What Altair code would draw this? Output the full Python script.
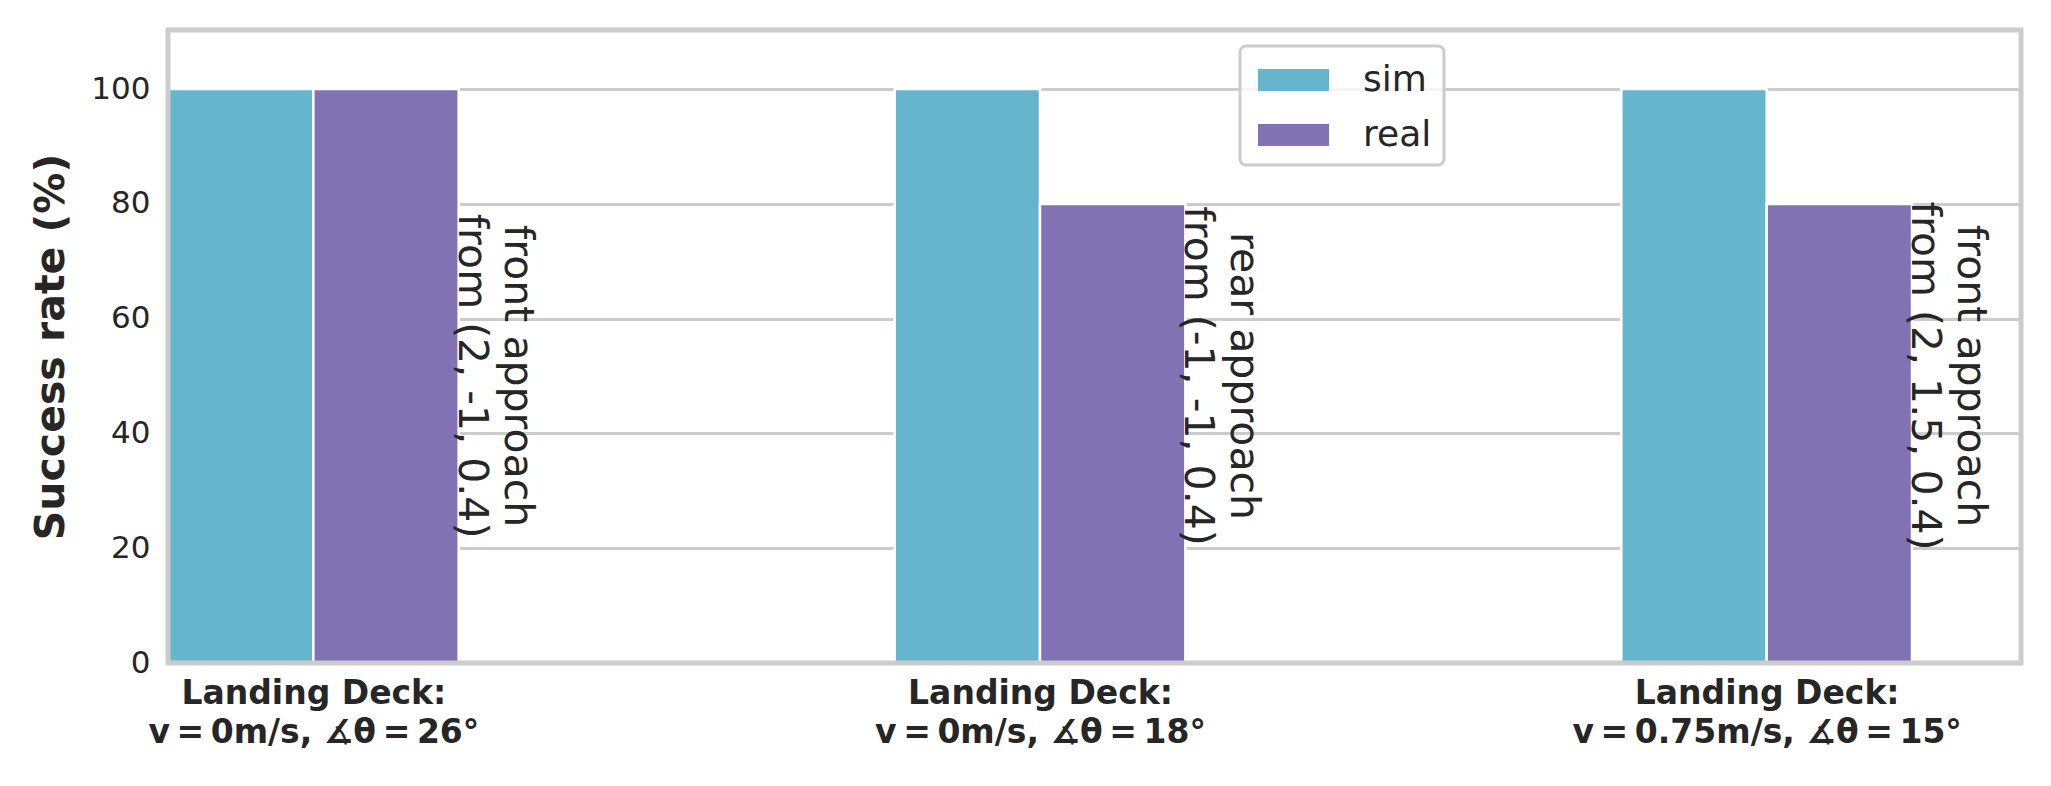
import json
import altair as alt
import pandas as pd

# ---------------- data ----------------
categories = [
    "Landing Deck:\nv = 0m/s, ∡θ = 26°",
    "Landing Deck:\nv = 0m/s, ∡θ = 18°",
    "Landing Deck:\nv = 0.75m/s, ∡θ = 15°",
]
sim_values = [100, 100, 100]
real_values = [100, 80, 80]
annotations = [
    "front approach\nfrom (2, -1, 0.4)",
    "rear approach\nfrom (-1, -1, 0.4)",
    "front approach\nfrom (2, 1.5, 0.4)",
]
series_names = ["sim", "real"]
series_colors = ["#64B5CD", "#8172B3"]
y_ticks = [0, 20, 40, 60, 80, 100]

# ---------------- tables ----------------
BAR_W = 0.2
rows = []
for i in range(len(categories)):
    rows.append(dict(idx=i, series="sim", x0=i - BAR_W, x1=i, value=sim_values[i]))
    rows.append(dict(idx=i, series="real", x0=i, x1=i + BAR_W, value=real_values[i]))
bars_df = pd.DataFrame(rows)

ann_df = pd.DataFrame(dict(
    pos=[i + 0.28 for i in range(len(annotations))],
    level=[50] * len(annotations),
    text=annotations,
))

# math-style tighter spacing around "=" (thin spaces)
def _fmt(line):
    return line.replace(" = ", "\u2009=\u2009")

label_arrays = "[" + ",".join(
    "[" + ",".join(json.dumps(_fmt(s), ensure_ascii=False) for s in c.split("\n")) + "]"
    for c in categories
) + "]"
label_expr = label_arrays + "[round(datum.value)]"

FONT = "DejaVu Sans"
TXT = "#262626"

x_scale = alt.Scale(domain=[-0.2, 2.35], nice=False, zero=False, padding=0)
y_scale = alt.Scale(domain=[0, 110.3], nice=False, padding=0)

bars = alt.Chart(bars_df).mark_bar(stroke="white", strokeWidth=2.5).encode(
    x=alt.X("x0:Q", scale=x_scale, axis=alt.Axis(
        values=list(range(len(categories))), labelExpr=label_expr, title=None,
        grid=False, ticks=False, domain=False, labelFlush=False, labelOverlap=False,
        labelBound=False, labelLimit=0, labelFont=FONT, labelFontSize=33,
        labelFontWeight="bold", labelColor=TXT, labelLineHeight=39, labelPadding=14,
        labelAlign="center", labelBaseline="top")),
    x2="x1:Q",
    y=alt.Y("value:Q", scale=y_scale, axis=alt.Axis(
        values=y_ticks, title="Success rate (%)", grid=True, gridColor="#cccccc",
        gridWidth=3, ticks=False, domain=False, labelFont=FONT, labelFontSize=31,
        labelColor=TXT, labelPadding=18, titleFont=FONT, titleFontSize=41,
        titleFontWeight="bold", titleColor=TXT, titlePadding=18)),
    y2=alt.datum(0),
    color=alt.Color("series:N", scale=alt.Scale(domain=series_names, range=series_colors),
        legend=alt.Legend(
            orient="none", legendX=1072, legendY=16, title=None,
            symbolType="M-0.727,-0.5L2.5,-0.5L2.5,0.5L-0.727,0.5Z",
            symbolSize=1936, symbolStrokeWidth=0, symbolOpacity=1,
            labelFont=FONT, labelFontSize=36, labelColor=TXT, labelOffset=67,
            padding=12, rowPadding=15,
            fillColor="rgba(255,255,255,0.8)", strokeColor="#cccccc")),
)

texts = alt.Chart(ann_df).mark_text(
    angle=90, align="center", baseline="middle", fontSize=41, lineHeight=46,
    lineBreak="\n", font=FONT, color=TXT,
).encode(
    x=alt.X("pos:Q", scale=x_scale),
    y=alt.Y("level:Q", scale=y_scale),
    text="text:N",
)

frame = alt.Chart(alt.Data(values=[{}])).mark_rect(
    fillOpacity=0, stroke="#cccccc", strokeWidth=5
).encode(
    x=alt.value(0), x2=alt.value("width"), y=alt.value(0), y2=alt.value("height")
)

chart = alt.layer(bars, texts, frame).properties(
    width=1853, height=633,
    padding={"left": 22, "top": 19, "right": 5, "bottom": 5},
    background="white",
).configure_view(stroke=None).configure_legend(strokeWidth=3, cornerRadius=6)

chart.save("out.html", embed_options={"renderer": "svg", "actions": False})
